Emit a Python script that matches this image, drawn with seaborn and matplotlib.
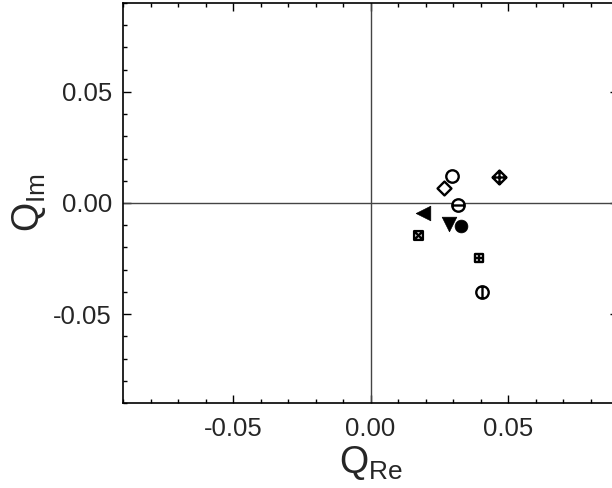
import matplotlib
matplotlib.use("Agg")
import matplotlib.pyplot as plt
import numpy as np
import seaborn as sns
from matplotlib.path import Path
from matplotlib.ticker import MultipleLocator, FormatStrFormatter

sns.set_style("ticks")
plt.rcParams["font.family"] = ["Liberation Sans", "DejaVu Sans"]
plt.rcParams["mathtext.fontset"] = "custom"
plt.rcParams["mathtext.rm"] = "Liberation Sans"
plt.rcParams["mathtext.it"] = "Liberation Sans"

# data (Q_Re, Q_Im)
labels = ["open_circle", "diamond", "diamond_plus", "circle_h", "tri_left",
          "tri_down", "dot", "square_x", "square_plus", "circle_v"]
q_re = [0.0297, 0.0267, 0.0469, 0.0317, 0.0190, 0.0285, 0.0330, 0.0172, 0.0396, 0.0407]
q_im = [0.0122, 0.0066, 0.0116, -0.0009, -0.0047, -0.0096, -0.0104, -0.0144, -0.0248, -0.0399]


def _compound(*parts):
    return Path.make_compound_path(*parts)


def _line(a, b):
    return Path([a, b], [Path.MOVETO, Path.LINETO])


circle = Path.unit_circle()
diamond = Path([(0, 1), (1, 0), (0, -1), (-1, 0), (0, 1)], closed=True)
square = Path([(-1, -1), (1, -1), (1, 1), (-1, 1), (-1, -1)], closed=True)
markers = {
    "open_circle": (circle, False, 80),
    "diamond": (diamond, False, 100),
    "diamond_plus": (_compound(diamond, _line((0, 1), (0, -1)), _line((-1, 0), (1, 0))), False, 100),
    "circle_h": (_compound(circle, _line((-1, 0), (1, 0))), False, 80),
    "tri_left": ("<", True, 110),
    "tri_down": ("v", True, 110),
    "dot": ("o", True, 85),
    "square_x": (_compound(square, _line((-1, -1), (1, 1)), _line((-1, 1), (1, -1))), False, 40),
    "square_plus": (_compound(square, _line((0, -1), (0, 1)), _line((-1, 0), (1, 0))), False, 40),
    "circle_v": (_compound(circle, _line((0, -1), (0, 1))), False, 80),
}

fig = plt.figure(figsize=(6.12, 4.88), dpi=100)
ax = fig.add_axes([123 / 612, 85 / 488, 495 / 612, 400 / 488])

ax.axhline(0, color="#444444", lw=1.0, zorder=1)
ax.axvline(0, color="#444444", lw=1.0, zorder=1)

for lab, x, y in zip(labels, q_re, q_im):
    m, filled, s = markers[lab]
    if filled:
        sns.scatterplot(x=[x], y=[y], marker=m, s=s, color="black",
                        edgecolor="black", linewidth=0.5, ax=ax, zorder=3)
    else:
        sns.scatterplot(x=[x], y=[y], marker=m, s=s, color="white",
                        edgecolor="black", linewidth=1.7, ax=ax, zorder=3)

ax.set_xlim(-0.09, 0.09)
ax.set_ylim(-0.09, 0.09)
ax.xaxis.set_major_locator(MultipleLocator(0.05))
ax.yaxis.set_major_locator(MultipleLocator(0.05))
ax.xaxis.set_minor_locator(MultipleLocator(0.01))
ax.yaxis.set_minor_locator(MultipleLocator(0.01))
ax.xaxis.set_major_formatter(FormatStrFormatter("%.2f"))
ax.yaxis.set_major_formatter(FormatStrFormatter("%.2f"))
ax.tick_params(which="both", direction="in", top=True, right=True, width=1.0, color="black")
ax.tick_params(which="major", length=6, labelsize=18.5)
ax.tick_params(axis="x", which="major", pad=10)
ax.tick_params(axis="y", which="major", pad=8)
ax.tick_params(which="minor", length=3)
for sp in ax.spines.values():
    sp.set_linewidth(1.2)
    sp.set_color("black")

ax.set_xlabel(r"$\mathregular{Q_{Re}}$", fontsize=27, labelpad=2)
ax.set_ylabel(r"$\mathregular{Q_{Im}}$", fontsize=27, labelpad=4)

fig.savefig("out.png", dpi=100)
